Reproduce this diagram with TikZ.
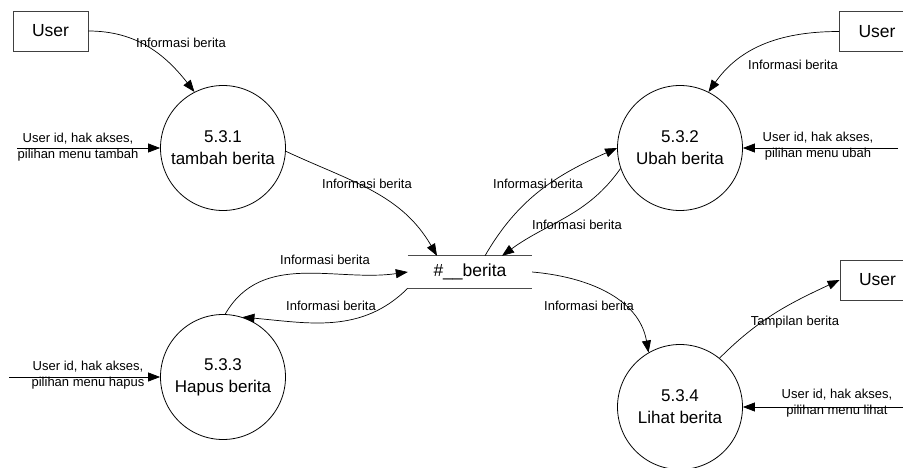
\documentclass[tikz,border=0pt]{standalone}
\usepackage{fontspec}
\setmainfont{Liberation Sans}
\usetikzlibrary{arrows.meta,calc}
\begin{document}
\begin{tikzpicture}[x=1pt,y=1pt,
 proc/.style={circle,draw,line width=0.8pt,minimum size=125pt,inner sep=0pt,align=center,font=\fontsize{17}{22}\selectfont},
 ent/.style={rectangle,draw=black!75,line width=0.8pt,minimum width=75pt,minimum height=40pt,inner sep=0pt,font=\fontsize{17.5}{21}\selectfont},
 storebox/.style={rectangle,minimum width=124pt,minimum height=32pt,inner sep=0pt,font=\fontsize{17.5}{21}\selectfont},
 flow/.style={line width=0.7pt,-{Triangle[length=12pt,width=9pt]}},
 lbl/.style={font=\fontsize{13}{16.5}\selectfont,inner sep=0pt,align=center},
]
\useasboundingbox[fill=white] (0,0) rectangle (903,-468);
\begin{scope}
\clip (0,0) rectangle (903,-468);
% entities
\node[ent] (u1) at (50.5,-31) {User};
\node[ent] (u2) at (877,-31.5) {User};
\node[ent] (u3) at (877.5,-280) {User};
% processes
\node[proc] (p1) at (223,-148) {5.3.1\\tambah berita};
\node[proc] (p2) at (680,-148) {5.3.2\\Ubah berita};
\node[proc] (p3) at (223,-377) {5.3.3\\Hapus berita};
\node[proc] (p4) at (680,-407) {5.3.4\\Lihat berita};
% data store
\node[storebox] (st) at (470,-272) {\#\_\_berita};
\draw[black!70,line width=0.8pt] (st.north west) -- (st.north east) (st.south west) -- (st.south east);
% free ends
\coordinate (i1) at (17,-148);
\coordinate (i2) at (898,-148);
\coordinate (i3) at (9,-377);
\coordinate (i4) at (905,-407);
% flows
\draw[flow] (u1.east) to[out=0,in=128] (p1.117);
\draw[flow] (i1) -- (p1.west);
\draw[flow] (p1.-3) to[out=-25,in=120] ($(st.north)+(-33,0)$);
\draw[flow] ($(st.north)+(15,0)$) to[out=60,in=204] (p2.west);
\draw[flow] (p2.199) to[out=-125,in=36] ($(st.north)+(32,0)$);
\draw[flow] (u2.west) to[out=180,in=55] (p2.63);
\draw[flow] (i2) -- (p2.east);
\draw[flow] (p3.88) to[out=60,in=188] (st.west);
\draw[flow] (st.south west) to[out=-135,in=-5] (p3.72);
\draw[flow] (i3) -- (p3.west);
\draw[flow] (st.east) to[out=-5,in=100] (p4.120);
\draw[flow] (p4.51) to[out=45,in=205] (u3.west);
\draw[flow] (i4) -- (p4.east);
% labels
\node[lbl] (l1) at (181,-43) {Informasi berita};
\node[lbl] (l2) at (78,-147) {User id, hak akses,\\pilihan menu tambah};
\node[lbl] (l3) at (367,-184) {Informasi berita};
\node[lbl] (l4) at (538,-184) {Informasi berita};
\node[lbl] (l5) at (577,-225) {Informasi berita};
\node[lbl] (l6) at (793,-65) {Informasi berita};
\node[lbl] (l7) at (818,-146) {User id, hak akses,\\pilihan menu ubah};
\node[lbl] (l8) at (325,-260) {Informasi berita};
\node[lbl] (l9) at (331,-306) {Informasi berita};
\node[lbl] (l10) at (88,-375) {User id, hak akses,\\pilihan menu hapus};
\node[lbl] (l11) at (589,-306) {Informasi berita};
\node[lbl] (l12) at (795,-322) {Tampilan berita};
\node[lbl] (l13) at (837,-403) {User id, hak akses,\\pilihan menu lihat};
\end{scope}
\end{tikzpicture}
\end{document}
